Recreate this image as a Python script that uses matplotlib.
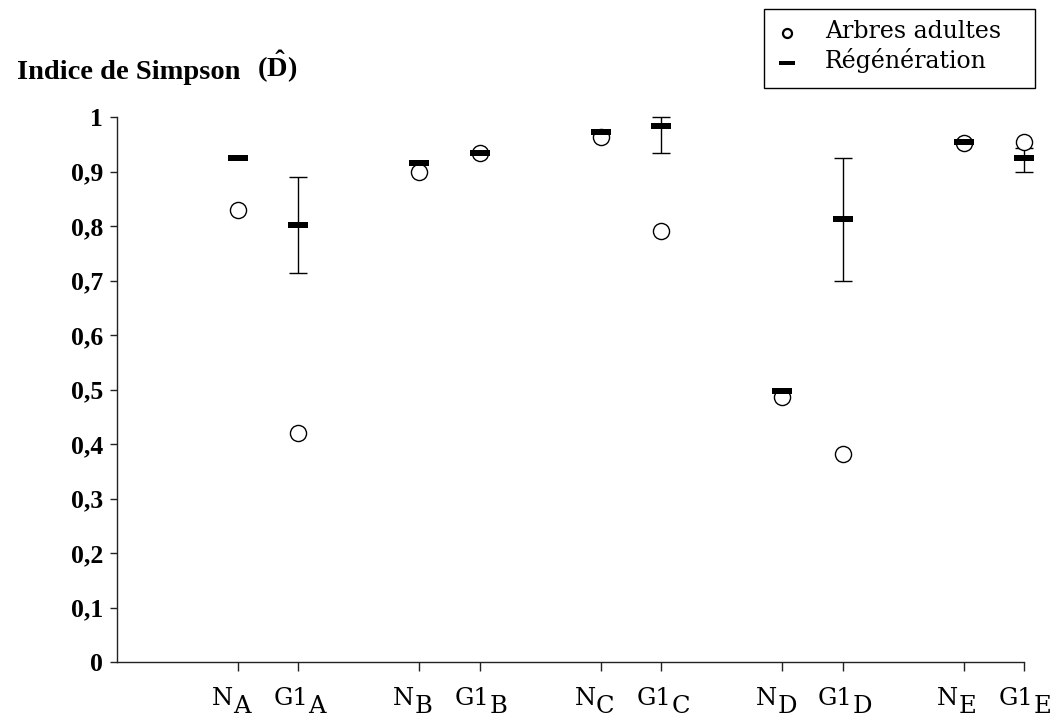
import numpy as np
import matplotlib
matplotlib.use("Agg")
import matplotlib.pyplot as plt
from matplotlib.lines import Line2D
from matplotlib.patches import Rectangle

# Simpson index per plot: adult trees vs regeneration
main_labels = ["N", "G1", "N", "G1", "N", "G1", "N", "G1", "N", "G1"]
sub_labels = ["A", "A", "B", "B", "C", "C", "D", "D", "E", "E"]
positions = [2, 3, 5, 6, 8, 9, 11, 12, 14, 15]

adultes = [0.83, 0.42, 0.90, 0.934, 0.963, 0.79, 0.486, 0.382, 0.953, 0.954]
regeneration = [0.925, 0.802, 0.916, 0.934, 0.972, 0.983, 0.497, 0.813, 0.954, 0.925]
regen_low = [np.nan, 0.714, np.nan, np.nan, np.nan, 0.934, np.nan, 0.699, np.nan, 0.899]
regen_high = [np.nan, 0.89, np.nan, np.nan, np.nan, 1.0, np.nan, 0.925, np.nan, 0.943]

ytick_values = [0, 0.1, 0.2, 0.3, 0.4, 0.5, 0.6, 0.7, 0.8, 0.9, 1.0]
ytick_labels = ["0", "0,1", "0,2", "0,3", "0,4", "0,5", "0,6", "0,7", "0,8", "0,9", "1"]

W, H = 1056, 716
plt.rcParams["mathtext.fontset"] = "custom"
plt.rcParams["mathtext.bf"] = "Liberation Serif:bold"
plt.rcParams["mathtext.rm"] = "Liberation Serif:bold"

fig = plt.figure(figsize=(W / 100, H / 100), dpi=100)
ax = fig.add_axes([117 / W, 1 - 662 / H, (1024 - 117) / W, (662 - 117) / H])

x = np.array(positions, dtype=float)
reg = np.array(regeneration)
lo = np.array(regen_low)
hi = np.array(regen_high)
has_err = ~np.isnan(lo)

# error bars first, then circles, then the dashes on top
ax.errorbar(x[has_err], reg[has_err],
            yerr=[reg[has_err] - lo[has_err], hi[has_err] - reg[has_err]],
            fmt="none", ecolor="black", elinewidth=1.0, capsize=6.8,
            capthick=1.0, clip_on=False, zorder=2)
ax.plot(x, adultes, linestyle="none", marker="o", markersize=11.6,
        markerfacecolor="white", markeredgecolor="black",
        markeredgewidth=1.0, clip_on=False, zorder=3)
dash = [(-1, -0.3), (1, -0.3), (1, 0.3), (-1, 0.3), (-1, -0.3)]
ax.plot(x, reg, linestyle="none", marker=dash, markersize=14.5,
        color="black", markeredgewidth=0, clip_on=False, zorder=4)

ax.set_xlim(0, 15)
ax.set_ylim(0, 1)
for side in ["top", "right"]:
    ax.spines[side].set_visible(False)
for side in ["left", "bottom"]:
    ax.spines[side].set_linewidth(1.0)
    ax.spines[side].set_color("#222222")

ax.set_yticks(ytick_values)
ax.set_yticklabels(ytick_labels, fontfamily="Liberation Serif",
                   fontweight="bold", fontsize=18.5)
ax.tick_params(axis="y", direction="out", length=5, width=1, pad=5,
               color="#222222")
ax.set_xticks(positions)
ax.set_xticklabels([])
ax.tick_params(axis="x", direction="out", length=6.5, width=1,
               color="#222222")

# category labels with a lowered letter
for pos, m, s in zip(positions, main_labels, sub_labels):
    dx = -5 if m == "N" else 10
    t = ax.annotate(m, xy=(pos, 0), xycoords=("data", "axes fraction"),
                    xytext=(dx, -43), textcoords="offset pixels",
                    ha="right", va="baseline", fontfamily="DejaVu Serif",
                    fontsize=17.5, annotation_clip=False)
    ax.annotate(s, xy=(1, 0), xycoords=t, xytext=(0, -8),
                textcoords="offset pixels", ha="left", va="bottom",
                fontfamily="DejaVu Serif", fontsize=17.5,
                annotation_clip=False)

# axis title
fig.text(17 / W, 1 - 79 / H, "Indice de Simpson", fontfamily="Liberation Serif",
         fontweight="bold", fontsize=20.5, va="baseline", ha="left")
fig.text(257 / W, 1 - 76 / H, r"$\mathbf{(\hat{D})}$", fontsize=20.5,
         va="baseline", ha="left")

# legend box
fig.patches.append(Rectangle((764 / W, 1 - 88 / H), (1035 - 764) / W, 79 / H,
                             transform=fig.transFigure, facecolor="white",
                             edgecolor="black", linewidth=1.0))
fig.lines.append(Line2D([787 / W], [1 - 33 / H], transform=fig.transFigure,
                        marker="o", markersize=6.5, markerfacecolor="white",
                        markeredgecolor="black", markeredgewidth=1.6,
                        linestyle="none"))
fig.lines.append(Line2D([787 / W], [1 - 63 / H], transform=fig.transFigure,
                        marker=dash, markersize=11, color="black",
                        markeredgewidth=0, linestyle="none"))
fig.text(825 / W, 1 - 38 / H, "Arbres adultes", fontfamily="DejaVu Serif",
         fontsize=17, va="baseline", ha="left")
fig.text(825 / W, 1 - 68 / H, "Régénération", fontfamily="DejaVu Serif",
         fontsize=17, va="baseline", ha="left")

fig.savefig("out.png", dpi=100)
